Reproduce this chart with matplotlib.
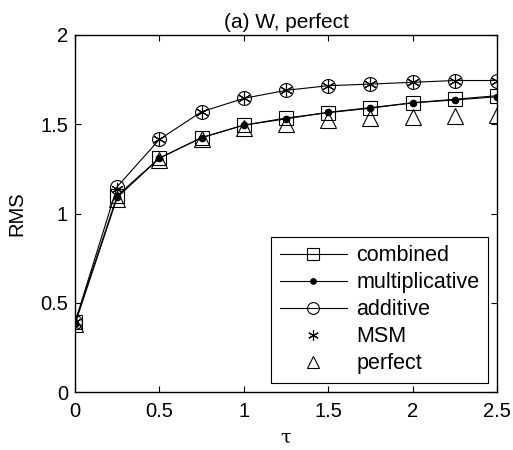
import matplotlib
matplotlib.use("Agg")
from matplotlib import pyplot as plt

plt.rcParams["font.family"] = ["Liberation Sans", "DejaVu Sans"]

tau = [0, 0.25, 0.5, 0.75, 1.0, 1.25, 1.5, 1.75, 2.0, 2.25, 2.5]
combined = [0.39, 1.10, 1.31, 1.425, 1.495, 1.535, 1.565, 1.59, 1.62, 1.64, 1.66]
multiplicative = [0.38, 1.09, 1.31, 1.425, 1.495, 1.53, 1.567, 1.593, 1.62, 1.636, 1.654]
additive = [0.39, 1.15, 1.415, 1.57, 1.645, 1.69, 1.716, 1.725, 1.735, 1.745, 1.745]
msm = [0.39, 1.14, 1.415, 1.57, 1.645, 1.69, 1.716, 1.725, 1.735, 1.745, 1.745]
perfect = [0.38, 1.08, 1.30, 1.42, 1.48, 1.50, 1.525, 1.535, 1.54, 1.545, 1.55]


def main():
    fig = plt.figure(figsize=(5.13, 4.5), dpi=100)
    ax = fig.add_axes([75 / 513, 1 - 392 / 450, 422 / 513, 357 / 450])

    ax.plot(tau, combined, "k-", marker="s", mfc="none", ms=10, lw=0.8,
            mew=0.8, label="combined")
    ax.plot(tau, multiplicative, "k-", marker=".", ms=9, lw=0.8,
            label="multiplicative")
    ax.plot(tau, additive, "k-", marker="o", mfc="none", ms=10, lw=0.8,
            mew=0.8, label="additive")
    ax.plot(tau, msm, "k", ls="none", marker=(6, 2, 0), ms=9,
            mew=0.8, label="MSM")
    ax.plot(tau, perfect, "k", ls="none", marker="^", mfc="none", ms=11,
            mew=0.8, label="perfect")

    ax.set_xlim(0, 2.5)
    ax.set_ylim(0, 2)
    ax.set_xticks([0, 0.5, 1, 1.5, 2, 2.5])
    ax.set_xticklabels(["0", "0.5", "1", "1.5", "2", "2.5"])
    ax.set_yticks([0, 0.5, 1, 1.5, 2])
    ax.set_yticklabels(["0", "0.5", "1", "1.5", "2"])
    ax.tick_params(direction="in", top=True, right=True, labelsize=14.5,
                   length=4, width=0.8)
    ax.tick_params(axis="x", pad=7)
    ax.tick_params(axis="y", pad=5)
    for s in ax.spines.values():
        s.set_linewidth(1.0)

    ax.set_xlabel("τ", fontsize=14, family="DejaVu Serif", labelpad=6)
    ax.set_ylabel("RMS", fontsize=14.5, labelpad=10)
    ax.set_title("(a) W, perfect", fontsize=15, pad=5)

    leg = ax.legend(loc="lower right", fontsize=15.5, frameon=True,
                    fancybox=False, edgecolor="k", framealpha=1,
                    handlelength=3.1, handletextpad=0.45, markerscale=0.85,
                    borderaxespad=0.42, labelspacing=0.28, borderpad=0.4)
    leg.get_frame().set_linewidth(0.8)

    fig.savefig("out.png", dpi=100)


if __name__ == "__main__":
    main()
